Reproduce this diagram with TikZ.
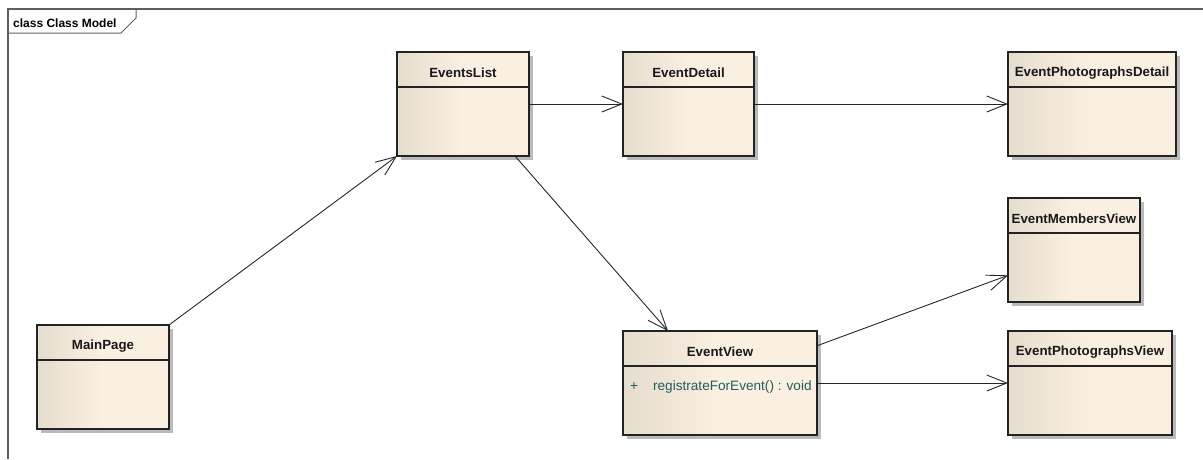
\documentclass[tikz,border=0pt]{standalone}
\usepackage{fontspec}
\setmainfont{Liberation Sans}
\usetikzlibrary{arrows.meta,shadows,positioning}

\definecolor{classleft}{RGB}{229,221,206}
\definecolor{classright}{RGB}{250,240,225}
\definecolor{classborder}{RGB}{35,35,35}
\definecolor{opteal}{RGB}{35,92,92}
\definecolor{framegray}{RGB}{95,95,95}

\begin{document}
\begin{tikzpicture}[
    x=1pt, y=-1pt,
    classbox/.style={rectangle, draw=classborder, line width=1.2pt, anchor=north west, inner sep=0pt, outer sep=0pt, minimum height=104pt, left color=classleft, right color=classright, middle color=classright, drop shadow={shadow xshift=4pt, shadow yshift=-4pt, fill=black!27, opacity=1}},
    classname/.style={font=\fontsize{13.3}{15}\selectfont\bfseries, text=black!90},
    optext/.style={font=\fontsize{13.6}{15}\selectfont, text=opteal, inner sep=0pt, anchor=west},
    assoc/.style={-{Straight Barb[length=20pt,width=16pt]}, line width=0.9pt, black!85}
]
\useasboundingbox (0,0) rectangle (1203,459);

% Diagram frame
\draw[framegray, line width=1.4pt] (8,459) -- (8,9) -- (1203,9);
\draw[framegray, line width=1pt] (8,33) -- (121,33) -- (136,18) -- (136,9);
\node[anchor=base west, inner sep=0pt, font=\fontsize{12}{14}\selectfont\bfseries] (framelabel) at (13,27) {class Class Model};

% Classes
\node[classbox, minimum width=132pt] (mainpage) at (37,325) {};
\node[classbox, minimum width=132pt] (eventslist) at (397,52) {};
\node[classbox, minimum width=131pt] (eventdetail) at (623,52) {};
\node[classbox, minimum width=168pt] (photodetail) at (1008,52) {};
\node[classbox, minimum width=132pt] (membersview) at (1008,198) {};
\node[classbox, minimum width=194pt] (eventview) at (623,331) {};
\node[classbox, minimum width=164pt] (photoview) at (1008,331) {};

% Class names and compartments
\foreach \cls/\title in {mainpage/MainPage, eventslist/EventsList, eventdetail/EventDetail, photodetail/EventPhotographsDetail, membersview/EventMembersView, eventview/EventView, photoview/EventPhotographsView} {
    \draw[classborder, line width=1.2pt] ([yshift=-35pt]\cls.north west) -- ([yshift=-35pt]\cls.north east);
    \node[classname] (\cls-name) at ([yshift=-21pt]\cls.north) {\title};
}

% Operations
\node[optext] (registrate) at ([xshift=7pt, yshift=-56pt]eventview.north west) {+\hspace{15pt}registrateForEvent() : void};

% Associations
\draw[assoc] (mainpage.north east) -- (eventslist.south west);
\draw[assoc] (eventslist.east) -- (eventdetail.west);
\draw[assoc] (eventdetail.east) -- (photodetail.west);
\draw[assoc] (eventslist.-45) -- (eventview.135);
\draw[assoc] (eventview.21) -- (membersview.201);
\draw[assoc] (eventview.east) -- (photoview.west);

\end{tikzpicture}
\end{document}
